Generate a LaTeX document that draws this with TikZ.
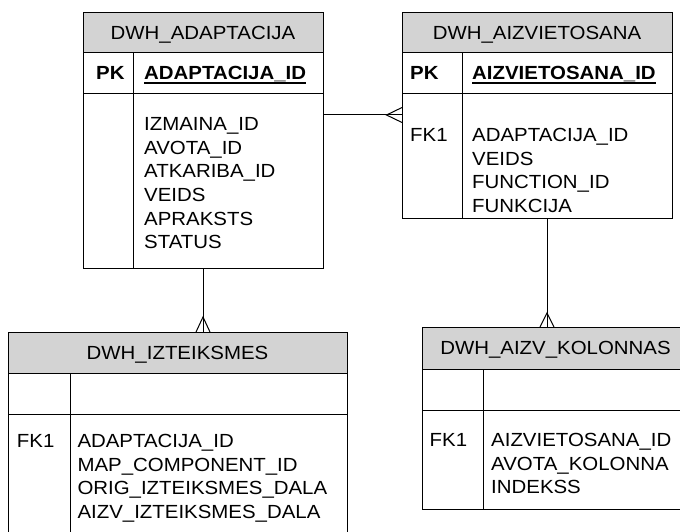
\documentclass[tikz,border=0pt]{standalone}
\usepackage{fontspec}
\setmainfont[FakeStretch=1.075]{Liberation Sans}
\usetikzlibrary{calc}
\definecolor{hdrgray}{RGB}{211,211,211}
% bold, underlined primary-key field
\newcommand\keyfield[1]{\sbox0{\bfseries #1}\rlap{\vrule width\wd0 height -2.2pt depth 3.8pt}\usebox0}
\begin{document}
\begin{tikzpicture}[x=1pt,y=-1pt,
  tbl/.style={draw=black, line width=1pt, fill=white, inner sep=0pt, outer sep=0pt, anchor=north west},
  sep/.style={draw=black, line width=1pt},
  txt/.style={inner sep=0pt, anchor=base west, font=\fontsize{19}{23.6}\selectfont},
  ttl/.style={inner sep=0pt, anchor=base, font=\fontsize{19}{23.6}\selectfont},
  rel/.style={draw=black, line width=1pt}
]
\useasboundingbox (0,0) rectangle (680,532);
\fill[white] (0,0) rectangle (680,532);
\clip (0,0) rectangle (680,532);

% ---------- DWH_ADAPTACIJA ----------
\node[tbl, minimum width=240pt, minimum height=255pt] (adapt) at (83,13) {};
\fill[hdrgray] (adapt.north west) rectangle ($(adapt.north east)+(0,40)$);
\draw[sep] (adapt.north west) rectangle (adapt.south east);
\draw[sep] ($(adapt.north west)+(0,40)$) -- ($(adapt.north east)+(0,40)$);
\draw[sep] ($(adapt.north west)+(0,81)$) -- ($(adapt.north east)+(0,81)$);
\draw[sep] ($(adapt.north west)+(50,40)$) -- ($(adapt.south west)+(50,0)$);
\node[ttl] (adapt-t) at (203,40) {DWH\_ADAPTACIJA};
\node[txt] (adapt-pk) at (96,80) {\bfseries PK};
\node[txt] (adapt-k) at (144,80) {\keyfield{ADAPTACIJA\_ID}};
\foreach \s [count=\i from 0] in {IZMAINA\_ID,AVOTA\_ID,ATKARIBA\_ID,VEIDS,APRAKSTS,STATUS}
  \node[txt] (adapt-f\i) at (144,130.7+23.6*\i) {\s};

% ---------- DWH_AIZVIETOSANA ----------
\node[tbl, minimum width=270pt, minimum height=205pt] (aizv) at (402,13) {};
\fill[hdrgray] (aizv.north west) rectangle ($(aizv.north east)+(0,40)$);
\draw[sep] (aizv.north west) rectangle (aizv.south east);
\draw[sep] ($(aizv.north west)+(0,40)$) -- ($(aizv.north east)+(0,40)$);
\draw[sep] ($(aizv.north west)+(0,81)$) -- ($(aizv.north east)+(0,81)$);
\draw[sep] ($(aizv.north west)+(60,40)$) -- ($(aizv.south west)+(60,0)$);
\node[ttl] (aizv-t) at (537,40) {DWH\_AIZVIETOSANA};
\node[txt] (aizv-pk) at (410,80) {\bfseries PK};
\node[txt] (aizv-k) at (472,80) {\keyfield{AIZVIETOSANA\_ID}};
\node[txt] (aizv-fk) at (410,141.7) {FK1};
\foreach \s [count=\i from 0] in {ADAPTACIJA\_ID,VEIDS,FUNCTION\_ID,FUNKCIJA}
  \node[txt] (aizv-f\i) at (472,141.7+23.6*\i) {\s};

% ---------- DWH_IZTEIKSMES ----------
\node[tbl, minimum width=339pt, minimum height=215pt] (izt) at (8,332) {};
\fill[hdrgray] (izt.north west) rectangle ($(izt.north east)+(0,41)$);
\draw[sep] (izt.north west) rectangle (izt.south east);
\draw[sep] ($(izt.north west)+(0,41)$) -- ($(izt.north east)+(0,41)$);
\draw[sep] ($(izt.north west)+(0,82)$) -- ($(izt.north east)+(0,82)$);
\draw[sep] ($(izt.north west)+(62,41)$) -- ($(izt.south west)+(62,0)$);
\node[ttl] (izt-t) at (177.5,359.3) {DWH\_IZTEIKSMES};
\node[txt] (izt-fk) at (16.7,447.6) {FK1};
\foreach \s [count=\i from 0] in {ADAPTACIJA\_ID,MAP\_COMPONENT\_ID,ORIG\_IZTEIKSMES\_DALA,AIZV\_IZTEIKSMES\_DALA}
  \node[txt] (izt-f\i) at (77.3,447.6+23.6*\i) {\s};

% ---------- DWH_AIZV_KOLONNAS ----------
\node[tbl, minimum width=267pt, minimum height=182pt] (kol) at (422,327) {};
\fill[hdrgray] (kol.north west) rectangle ($(kol.north east)+(0,42)$);
\draw[sep] (kol.north west) rectangle (kol.south east);
\draw[sep] ($(kol.north west)+(0,42)$) -- ($(kol.north east)+(0,42)$);
\draw[sep] ($(kol.north west)+(0,83)$) -- ($(kol.north east)+(0,83)$);
\draw[sep] ($(kol.north west)+(61,42)$) -- ($(kol.south west)+(61,0)$);
\node[ttl] (kol-t) at (555.5,354.8) {DWH\_AIZV\_KOLONNAS};
\node[txt] (kol-fk) at (429.5,446.7) {FK1};
\foreach \s [count=\i from 0] in {AIZVIETOSANA\_ID,AVOTA\_KOLONNA,INDEKSS}
  \node[txt] (kol-f\i) at (491,446.7+23.6*\i) {\s};

% ---------- relationships (one-to-many, crow's foot on the many side) ----------
\coordinate (r1) at (0,115);
\draw[rel] (adapt.east |- r1) -- (aizv.west |- r1);
\draw[rel] ($(aizv.west |- r1)+(0,-7.5)$) -- ($(aizv.west |- r1)+(-15.5,0)$) -- ($(aizv.west |- r1)+(0,7.5)$);

\coordinate (r2) at (203,0);
\draw[rel] (adapt.south -| r2) -- (izt.north -| r2);
\draw[rel] ($(izt.north -| r2)+(-7,0)$) -- ($(izt.north -| r2)+(0,-15)$) -- ($(izt.north -| r2)+(7,0)$);

\coordinate (r3) at (547,0);
\draw[rel] (aizv.south -| r3) -- (kol.north -| r3);
\draw[rel] ($(kol.north -| r3)+(-7,0)$) -- ($(kol.north -| r3)+(0,-14)$) -- ($(kol.north -| r3)+(7,0)$);
\end{tikzpicture}
\end{document}
